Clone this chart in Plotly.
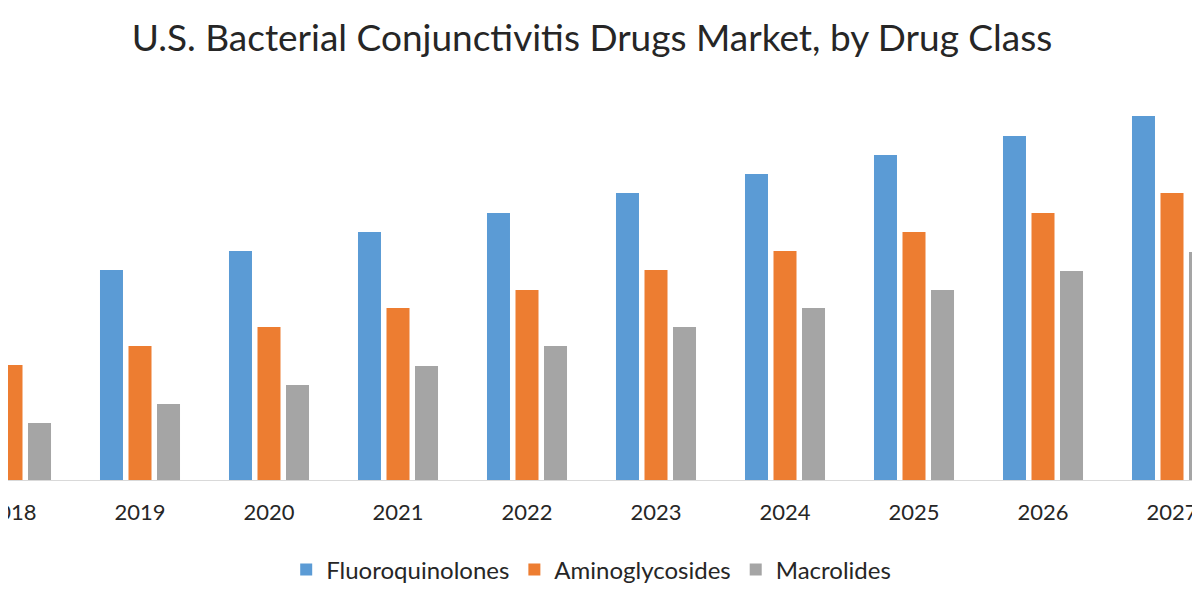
import plotly.graph_objects as go

years = ["2018", "2019", "2020", "2021", "2022", "2023", "2024", "2025", "2026", "2027"]
fluoroquinolones = [19.1, 21.0, 22.9, 24.8, 26.7, 28.7, 30.6, 32.5, 34.4, 36.4]
aminoglycosides = [11.5, 13.4, 15.3, 17.2, 19.0, 21.0, 22.9, 24.8, 26.7, 28.7]
macrolides = [5.7, 7.6, 9.5, 11.4, 13.4, 15.3, 17.2, 19.0, 20.9, 22.8]

series = [
    ("Fluoroquinolones", fluoroquinolones, "#5B9BD5"),
    ("Aminoglycosides", aminoglycosides, "#ED7D31"),
    ("Macrolides", macrolides, "#A5A5A5"),
]

FONT = "Lato, 'Open Sans', sans-serif"

fig = go.Figure()
for name, vals, color in series:
    fig.add_trace(go.Bar(x=years, y=vals, name=name, marker=dict(color=color, line=dict(width=0))))

fig.update_layout(
    width=1200, height=600,
    paper_bgcolor="white", plot_bgcolor="white",
    margin=dict(l=0, r=0, t=72, b=128, autoexpand=False),
    barmode="group", bargap=0.337, bargroupgap=0.193,
    title=dict(text="U.S. Bacterial Conjunctivitis Drugs Market, by Drug Class",
               x=584 / 1200, xanchor="center", y=1 - 30 / 600, yanchor="middle", yref="container",
               font=dict(family=FONT, size=37, color="#262626")),
    legend=dict(orientation="h", x=0.486, xanchor="center", y=-0.225, yanchor="middle",
                font=dict(family=FONT, size=24, color="#262626"), traceorder="normal"),
    xaxis=dict(type="category", range=[-3 / 129, (1200 - 3) / 129], showline=True,
               linecolor="#D9D9D9", linewidth=1, ticks="", showgrid=False,
               ticklabeloverflow="allow", automargin=False, ticklabelstandoff=13,
               tickfont=dict(family=FONT, size=22, color="#262626")),
    yaxis=dict(range=[0, 40], showticklabels=False, showgrid=False, zeroline=False,
               showline=False, automargin=False),
    font=dict(family=FONT),
)

fig.write_html("out.html")
